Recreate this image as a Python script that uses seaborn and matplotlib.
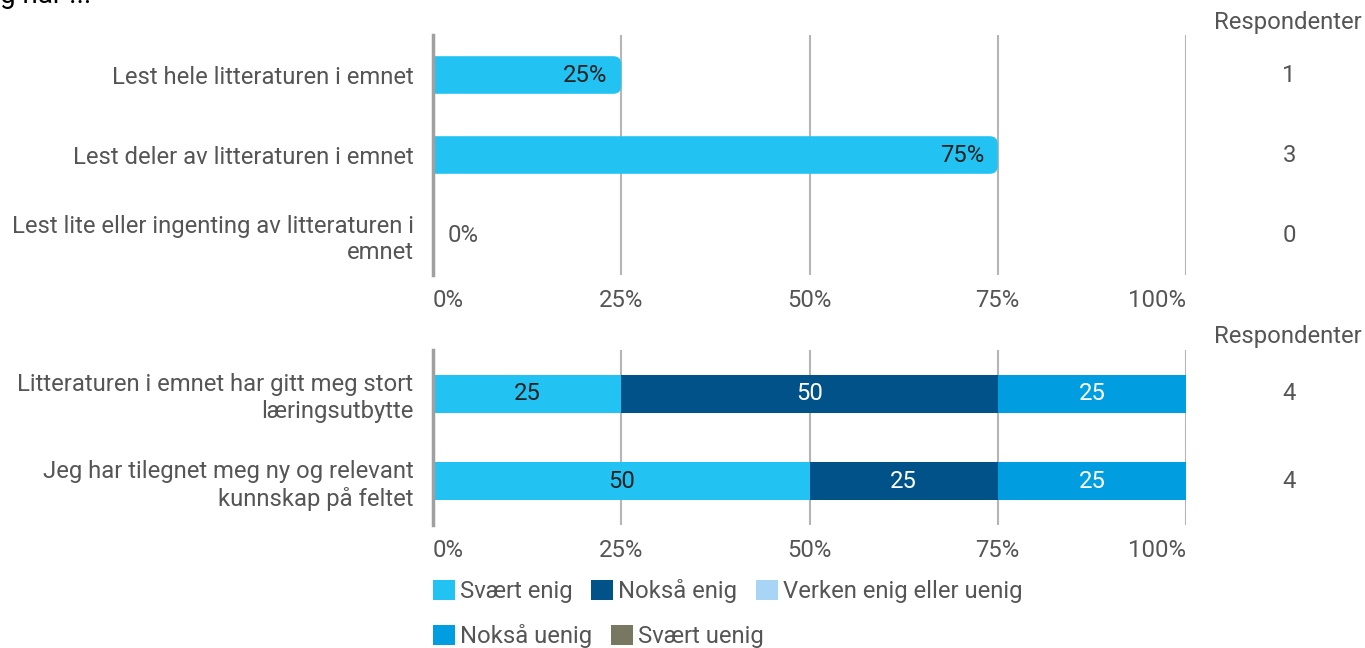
import numpy as np
import pandas as pd
import seaborn as sns
import matplotlib.pyplot as plt
from matplotlib.patches import FancyBboxPatch, Patch

sns.set_theme(style="white")
plt.rcParams["font.family"] = ["Roboto", "DejaVu Sans"]

tittel = "Jeg har ..."
spm_topp = ["Lest hele litteraturen i emnet",
            "Lest deler av litteraturen i emnet",
            "Lest lite eller ingenting av litteraturen i\nemnet"]
andel_topp = [25, 75, 0]
resp_topp = [1, 3, 0]

spm_bunn = ["Litteraturen i emnet har gitt meg stort\nlæringsutbytte",
            "Jeg har tilegnet meg ny og relevant\nkunnskap på feltet"]
svar = ["Svært enig", "Nokså enig", "Verken enig eller uenig", "Nokså uenig", "Svært uenig"]
svaert_enig = [25, 50]
noksa_enig = [50, 25]
verken = [0, 0]
noksa_uenig = [25, 25]
svaert_uenig = [0, 0]
resp_bunn = [4, 4]

farger = ["#22c3f3", "#005289", "#a8d5f5", "#009ee0", "#787761"]
tekstfarger = ["#222222", "white", "#222222", "white", "white"]
xticks = [0, 25, 50, 75, 100]
grå = "#555555"
fs = 17.2

W, H = 1365, 648
fig = plt.figure(figsize=(W / 100, H / 100), dpi=100)
ax1 = fig.add_axes([433 / W, 1 - 275 / H, 753 / W, 240 / H])
ax2 = fig.add_axes([433 / W, 1 - 525 / H, 753 / W, 175 / H])

# øverste figur
df1 = pd.DataFrame({"spm": spm_topp, "andel": andel_topp})
sns.barplot(data=df1, y="spm", x="andel", color=farger[0], saturation=1,
            width=0.47, linewidth=0, ax=ax1)

# nederste figur (stablet)
verdier = np.array([svaert_enig, noksa_enig, verken, noksa_uenig, svaert_uenig])
kum = np.cumsum(verdier, axis=0)
for i in range(len(svar) - 1, -1, -1):
    if verdier[i].sum() == 0:
        continue
    df2 = pd.DataFrame({"spm": spm_bunn, "x": kum[i]})
    sns.barplot(data=df2, y="spm", x="x", color=farger[i], saturation=1,
                width=0.43, linewidth=0, ax=ax2)

for ax, n in [(ax1, 3), (ax2, 2)]:
    ax.set_xlim(0, 100)
    ax.set_ylim(n - 0.5, -0.5)
    ax.set_xticks(xticks)
    ax.set_xticklabels([f"{t}%" for t in xticks])
    ax.get_xticklabels()[0].set_ha("left")
    ax.get_xticklabels()[-1].set_ha("right")
    ax.set_xlabel("")
    ax.set_ylabel("")
    ax.grid(axis="x", color="#b5b5b5", lw=1.5)
    ax.set_axisbelow(True)
    for s in ["top", "right", "bottom"]:
        ax.spines[s].set_visible(False)
    ax.spines["left"].set_color("#a0a0a0")
    ax.spines["left"].set_linewidth(2.5)
    ax.spines["left"].set_zorder(5)
    ax.tick_params(axis="x", length=0, pad=10, labelsize=fs, labelcolor=grå)
    ax.tick_params(axis="y", length=0, pad=14, labelsize=fs, labelcolor=grå)

# avrundede ender på øverste søyler
pxx = 753 / 100
pxy = 240 / 3
r = 8 / pxx
asp = (8 / pxy) / r
for p in list(ax1.patches):
    x, y, w, h = p.get_x(), p.get_y(), p.get_width(), p.get_height()
    if w > 0:
        ny = FancyBboxPatch((x - r, y), w + r, h,
                            boxstyle=f"round,pad=0,rounding_size={r}",
                            mutation_aspect=asp, fc=farger[0], ec="none")
        ax1.add_patch(ny)
    p.remove()

for i, v in enumerate(andel_topp):
    if v > 0:
        ax1.text(v - 1.8, i, f"{v}%", ha="right", va="center", fontsize=fs, color="#222222")
    else:
        ax1.text(1.9, i, f"{v}%", ha="left", va="center", fontsize=fs, color=grå)
    ax1.text(113.7, i, str(resp_topp[i]), ha="center", va="center", fontsize=fs,
             color=grå, clip_on=False)

for j in range(len(spm_bunn)):
    for i in range(len(svar)):
        v = verdier[i][j]
        if v > 0:
            ax2.text(kum[i][j] - v / 2, j, str(v), ha="center", va="center",
                     fontsize=fs, color=tekstfarger[i])
    ax2.text(113.7, j, str(resp_bunn[j]), ha="center", va="center", fontsize=fs,
             color=grå, clip_on=False)

fig.text(1288 / W, 1 - 22 / H, "Respondenter", ha="center", va="center", fontsize=fs, color=grå)
fig.text(1288 / W, 1 - 337 / H, "Respondenter", ha="center", va="center", fontsize=fs, color=grå)

fig.text(-0.022, 1 - 3 / H, tittel, ha="left", va="baseline", fontsize=20, color="black")

# legende i to rader
handles = [Patch(fc=c, ec="none") for c in farger]
leg_kw = dict(frameon=False, fontsize=fs, handlelength=0.92, handleheight=0.92,
              handletextpad=0.2, columnspacing=0.8, loc="center left",
              borderaxespad=0, borderpad=0, labelcolor=grå)
fig.legend(handles[:3], svar[:3], ncol=3, bbox_to_anchor=(433 / W, 1 - 591 / H), **leg_kw)
fig.legend(handles[3:], svar[3:], ncol=2, bbox_to_anchor=(433 / W, 1 - 636 / H), **leg_kw)

plt.savefig("out.png", dpi=100)
